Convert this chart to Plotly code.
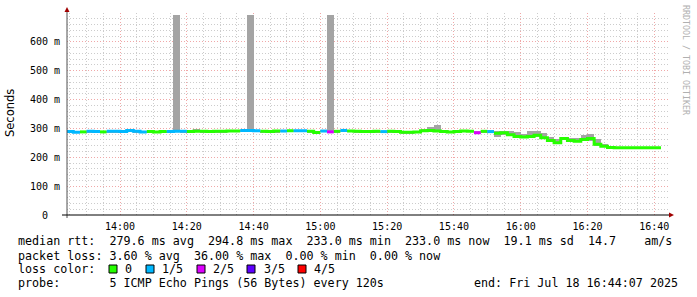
import plotly.graph_objects as go
from datetime import datetime, timedelta

# ---------------- data ----------------
start_time = datetime(2025, 7, 18, 13, 44, 0)
step_minutes = 2
end_time = datetime(2025, 7, 18, 16, 44, 7)

median_ms = [289, 287, 288, 290, 289, 288, 290, 290, 289, 293,
             290, 288, 289, 288, 289, 289, 290, 290, 289, 290,
             290, 289, 290, 290, 291, 291, 293, 293, 292, 290,
             289, 291, 291, 292, 292, 292, 290, 286, 291, 288,
             290, 293, 291, 290, 289, 289, 290, 289, 290, 289,
             287, 287, 288, 292, 293, 291, 289, 288, 289, 291,
             290, 285, 290, 289, 283, 285, 278, 272, 270, 272,
             276, 268, 258, 250, 265, 258, 256, 262, 265, 245,
             238, 234, 233, 233, 233, 233, 233, 233, 233]
loss_of5 = [1, 1, 0, 1, 1, 0, 1, 1, 1, 1,
            1, 1, 0, 0, 0, 1, 1, 1, 0, 0,
            0, 0, 0, 0, 0, 0, 1, 1, 1, 0,
            0, 0, 1, 0, 1, 1, 0, 0, 1, 2,
            0, 1, 0, 0, 0, 0, 0, 1, 0, 0,
            0, 0, 0, 0, 0, 0, 0, 0, 0, 0,
            0, 2, 0, 1, 0, 0, 0, 0, 0, 0,
            0, 0, 0, 0, 0, 0, 0, 0, 0, 0,
            0, 0, 0, 0, 0, 0, 0, 0, 0]
smoke_lo = [284, 283, 285, 287, 285, 285, 287, 287, 284, 289,
            286, 285, 286, 285, 284, 286, 287, 287, 286, 287,
            287, 286, 287, 287, 288, 288, 290, 290, 289, 286,
            285, 287, 288, 289, 289, 289, 287, 283, 288, 285,
            287, 289, 288, 287, 286, 286, 287, 286, 287, 286,
            284, 284, 285, 288, 289, 287, 286, 285, 286, 287,
            286, 282, 283, 285, 272, 278, 275, 268, 266, 268,
            270, 264, 255, 246, 260, 254, 252, 257, 258, 240,
            235, 232, 231, 231, 231, 231, 231, 231, 231]
smoke_hi = [291, 290, 291, 292, 291, 291, 292, 292, 292, 295,
            292, 290, 291, 290, 291, 292, 694, 293, 292, 297,
            293, 292, 292, 293, 294, 294, 296, 694, 295, 292,
            292, 293, 294, 295, 295, 296, 293, 290, 294, 694,
            293, 296, 294, 293, 292, 292, 293, 292, 293, 292,
            290, 290, 292, 298, 304, 311, 293, 292, 293, 295,
            294, 292, 294, 293, 292, 292, 290, 288, 282, 290,
            290, 285, 270, 262, 272, 268, 266, 276, 282, 262,
            245, 238, 236, 235, 235, 235, 235, 235, 235]

loss_labels = ["0", "1/5", "2/5", "3/5", "4/5"]
loss_colors = ["#26ff00", "#00b8ff", "#dd00ff", "#5e00ff", "#ff0000"]

y_tick_vals = [0, 100, 200, 300, 400, 500, 600]
y_tick_text = ["0  ", "100 m", "200 m", "300 m", "400 m", "500 m", "600 m"]

stat_lines = [
    "median rtt:  279.6 ms avg  294.8 ms max  233.0 ms min  233.0 ms now  19.1 ms sd  14.7    am/s",
    "packet loss: 3.60 % avg  36.00 % max  0.00 % min  0.00 % now",
]
probe_text = "probe:       5 ICMP Echo Pings (56 Bytes) every 120s"
end_text = "end: Fri Jul 18 16:44:07 2025"

# ---------------- geometry ----------------
W, H = 697, 297
L, R, T, B = 67, 668, 13, 215


def px(xp):
    return (xp - L) / (R - L)


def py(yp):
    return (B - yp) / (B - T)


n = len(median_ms)
t_starts = [start_time + timedelta(minutes=step_minutes * k) for k in range(n)]
t_mid = [t + timedelta(minutes=step_minutes / 2) for t in t_starts]
step_ms = step_minutes * 60 * 1000

fig = go.Figure()

# smoke
fig.add_trace(go.Bar(
    x=t_mid, base=smoke_lo,
    y=[h - l for h, l in zip(smoke_hi, smoke_lo)],
    width=[step_ms] * n,
    marker=dict(color="#a4a4a4", line=dict(width=0)),
    showlegend=False, hoverinfo="skip"))

# median line coloured by loss
for li, col in enumerate(loss_colors):
    xs, ys = [], []
    k = 0
    while k < n:
        if loss_of5[k] == li:
            j = k
            while j + 1 < n and loss_of5[j + 1] == li:
                j += 1
            for m in range(k, j + 1):
                xs.append(t_starts[m])
                ys.append(median_ms[m])
            xs.append(t_starts[j] + timedelta(minutes=step_minutes))
            ys.append(median_ms[j])
            xs.append(None)
            ys.append(None)
            k = j + 1
        else:
            k += 1
    if xs:
        fig.add_trace(go.Scatter(x=xs, y=ys, mode="lines",
                                 line=dict(color=col, width=3, shape="hv"),
                                 showlegend=False, hoverinfo="skip",
                                 connectgaps=False))

mono = "DejaVu Sans Mono"

fig.update_layout(
    width=W, height=H,
    margin=dict(l=L, r=W - R, t=T, b=H - B, pad=0),
    paper_bgcolor="white", plot_bgcolor="white",
    showlegend=False, bargap=0,
    font=dict(family=mono, size=10, color="black"),
    xaxis=dict(
        type="date",
        range=[end_time - timedelta(hours=3), end_time],
        tick0="2025-07-18 00:00:00", dtick=20 * 60 * 1000,
        tickformat="%H:%M",
        showgrid=True, gridcolor="#f0a8a8", griddash="1px,2px", gridwidth=1,
        minor=dict(dtick=5 * 60 * 1000, showgrid=True, gridcolor="#cccccc",
                   griddash="1px,2px", gridwidth=1),
        showline=False, zeroline=False, ticks="",
        ticklabelstandoff=4,
        tickfont=dict(family=mono, size=10, color="black"),
        fixedrange=True,
    ),
    yaxis=dict(
        range=[0, 700],
        tickvals=y_tick_vals, ticktext=y_tick_text,
        showgrid=True, gridcolor="#f0a8a8", griddash="1px,2px", gridwidth=1,
        minor=dict(dtick=20, showgrid=True, gridcolor="#cccccc",
                   griddash="1px,2px", gridwidth=1),
        showline=False, zeroline=False, ticks="",
        ticklabelstandoff=6,
        tickfont=dict(family=mono, size=10, color="black"),
        fixedrange=True,
    ),
)

shapes = []
# axes lines
shapes.append(dict(type="line", xref="paper", yref="paper",
                   x0=px(L), x1=px(L), y0=py(218), y1=py(9),
                   line=dict(color="#505050", width=1)))
shapes.append(dict(type="line", xref="paper", yref="paper",
                   x0=px(62), x1=px(671), y0=py(B), y1=py(B),
                   line=dict(color="black", width=1)))
# arrowheads
shapes.append(dict(type="path", xref="paper", yref="paper",
                   path=f"M {px(64.5)} {py(12)} L {px(69.5)} {py(12)} L {px(67)} {py(7)} Z",
                   fillcolor="#a00000", line=dict(width=0)))
shapes.append(dict(type="path", xref="paper", yref="paper",
                   path=f"M {px(669)} {py(212.5)} L {px(669)} {py(217.5)} L {px(674)} {py(B)} Z",
                   fillcolor="#a00000", line=dict(width=0)))
# loss colour boxes
box_x = [109, 146, 197, 247, 298]
for bx, col in zip(box_x, loss_colors):
    shapes.append(dict(type="rect", xref="paper", yref="paper",
                       x0=px(bx), x1=px(bx + 8), y0=py(273), y1=py(265),
                       fillcolor=col, line=dict(color="black", width=1)))
fig.update_layout(shapes=shapes)

NB = "\u00a0"


def txt(s):
    return s.replace(" ", NB)


ann = []
ann.append(dict(x=px(10), y=py(113), xref="paper", yref="paper",
                text="Seconds", textangle=-90, showarrow=False,
                font=dict(family="DejaVu Sans", size=11.5, color="black"),
                xanchor="center", yanchor="middle"))
ann.append(dict(x=px(686), y=py(60), xref="paper", yref="paper",
                text=txt("RRDTOOL / TOBI OETIKER"), textangle=90, showarrow=False,
                font=dict(family=mono, size=8.3, color="#b0b0b0"),
                xanchor="center", yanchor="middle"))
row_y = [241.5, 255.5, 269.3, 283.3]
for i, line in enumerate(stat_lines):
    ann.append(dict(x=px(16), y=py(row_y[i]), xref="paper", yref="paper",
                    text=txt(line), showarrow=False,
                    font=dict(family=mono, size=11.7, color="black"),
                    xanchor="left", yanchor="middle"))
ann.append(dict(x=px(16), y=py(row_y[2]), xref="paper", yref="paper",
                text=txt("loss color:"), showarrow=False,
                font=dict(family=mono, size=11.7, color="black"),
                xanchor="left", yanchor="middle"))
label_x = [123, 160, 211, 262, 312]
for lx, lab in zip(label_x, loss_labels):
    ann.append(dict(x=px(lx), y=py(row_y[2]), xref="paper", yref="paper",
                    text=lab, showarrow=False,
                    font=dict(family=mono, size=11.7, color="black"),
                    xanchor="left", yanchor="middle"))
ann.append(dict(x=px(16), y=py(row_y[3]), xref="paper", yref="paper",
                text=txt(probe_text), showarrow=False,
                font=dict(family=mono, size=11.7, color="black"),
                xanchor="left", yanchor="middle"))
ann.append(dict(x=px(680), y=py(row_y[3]), xref="paper", yref="paper",
                text=txt(end_text), showarrow=False,
                font=dict(family=mono, size=11.7, color="black"),
                xanchor="right", yanchor="middle"))
fig.update_layout(annotations=ann)

fig.write_html("out.html")
